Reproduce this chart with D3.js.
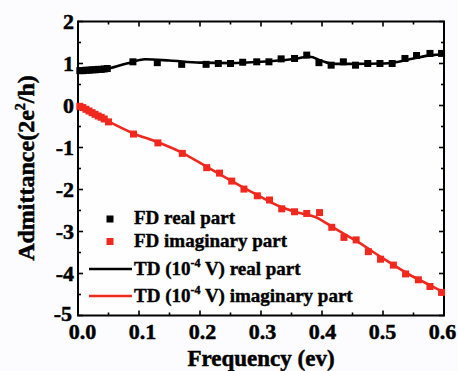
<!DOCTYPE html>
<html><head><meta charset="utf-8">
<script src="https://cdn.jsdelivr.net/npm/d3@7"></script>
<style>body{margin:0;background:#fcfcfe;}svg{display:block;}</style>
</head><body>
<script>
// ---- data ----
const fdRealFreq = [0.003,0.008,0.013,0.018,0.023,0.028,0.033,0.038,0.043,0.048,0.09,0.13,0.17,0.21,0.23,0.25,0.27,0.293,0.313,0.333,0.355,0.375,0.395,0.415,0.435,0.455,0.475,0.495,0.515,0.536,0.555,0.577,0.596];
const fdRealVal  = [0.83,0.83,0.84,0.84,0.85,0.85,0.86,0.86,0.87,0.88,1.04,1.02,0.98,0.98,1.0,1.0,1.03,1.04,1.04,1.11,1.12,1.2,1.02,0.96,1.04,0.96,1.0,1.0,1.0,1.12,1.19,1.24,1.24];
const fdImagFreq = [0.003,0.008,0.013,0.018,0.023,0.028,0.033,0.038,0.043,0.05,0.091,0.131,0.171,0.211,0.232,0.252,0.272,0.294,0.314,0.334,0.355,0.375,0.396,0.416,0.436,0.456,0.476,0.496,0.517,0.537,0.558,0.577,0.596];
const fdImagVal  = [-0.02,-0.05,-0.09,-0.13,-0.17,-0.21,-0.25,-0.28,-0.32,-0.39,-0.68,-0.89,-1.14,-1.48,-1.61,-1.8,-1.99,-2.15,-2.25,-2.46,-2.53,-2.57,-2.55,-2.9,-3.14,-3.2,-3.48,-3.66,-3.8,-4.01,-4.15,-4.31,-4.45];
const tdFreq     = [0.0,0.02,0.05,0.08,0.11,0.15,0.2,0.25,0.3,0.35,0.38,0.4,0.42,0.45,0.5,0.52,0.55,0.58,0.6];
const tdRealVal  = [0.83,0.84,0.88,1.0,1.1,1.07,1.02,1.01,1.04,1.1,1.16,1.06,0.99,0.99,1.0,1.03,1.12,1.2,1.22];
const tdImagFreq = [0.0,0.02,0.05,0.09,0.13,0.17,0.21,0.25,0.29,0.33,0.36,0.39,0.42,0.46,0.5,0.54,0.58,0.6];
const tdImagVal  = [0.0,-0.15,-0.38,-0.66,-0.87,-1.12,-1.45,-1.78,-2.1,-2.4,-2.55,-2.66,-2.92,-3.26,-3.64,-4.0,-4.3,-4.45];
const xTicks = [0.0,0.1,0.2,0.3,0.4,0.5,0.6];
const yTicks = [-5,-4,-3,-2,-1,0,1,2];
const legendLabels = ["FD real part","FD imaginary part","real part","imaginary part"];

const W=458,H=371;
const L=78,R=444,T=21.5,B=315.5;
const red="#f0281e";
const svg=d3.select("body").append("svg").attr("width",W).attr("height",H);
const x=d3.scaleLinear().domain([0,0.6]).range([L,R]);
const xLab=d3.scaleLinear().domain([0,0.6]).range([L+4.5,R-1.5]);
const y=d3.scaleLinear().domain([-5,2]).range([B,T]);
const font="'Liberation Serif','Times New Roman',serif";

// frame
svg.append("rect").attr("x",L).attr("y",T).attr("width",R-L).attr("height",B-T)
  .attr("fill","#fefefe").attr("stroke","#000").attr("stroke-width",2);

// ticks (inward)
const minorX=d3.range(0,0.601,0.05), minorY=d3.range(-5,2.01,0.5);
const tg=svg.append("g").attr("stroke","#000").attr("stroke-width",1.6);
minorX.forEach(v=>{
  const major=Math.abs(v*10-Math.round(v*10))<1e-6; const len=major?5:3;
  tg.append("line").attr("x1",x(v)).attr("x2",x(v)).attr("y1",B).attr("y2",B-len);
  tg.append("line").attr("x1",x(v)).attr("x2",x(v)).attr("y1",T).attr("y2",T+len);
});
minorY.forEach(v=>{
  const major=Math.abs(v-Math.round(v))<1e-6; const len=major?5:3;
  tg.append("line").attr("x1",L).attr("x2",L+len).attr("y1",y(v)).attr("y2",y(v));
  tg.append("line").attr("x1",R).attr("x2",R-len).attr("y1",y(v)).attr("y2",y(v));
});

const heavy=sel=>sel.attr("font-family",font).attr("font-weight","bold")
  .attr("stroke","#000").attr("stroke-width",0.5);

// tick labels
heavy(svg.append("g")).selectAll("text").data(xTicks).join("text")
  .attr("x",d=>xLab(d)).attr("y",339).attr("text-anchor","middle")
  .attr("font-size",22).text(d=>d.toFixed(1));
heavy(svg.append("g")).selectAll("text").data(yTicks).join("text")
  .attr("x",d=>L-4-(d===-5?2:0)).attr("y",d=>y(d)+7-(d===-5?2:0)).attr("text-anchor","end")
  .attr("font-size",22).text(d=>d);

// axis titles
heavy(svg.append("text")).attr("x",(L+R)/2).attr("y",366).attr("text-anchor","middle")
  .attr("font-size",23).text("Frequency (ev)");
const yt=heavy(svg.append("text")).attr("transform","translate(34,168) rotate(-90)").attr("text-anchor","middle")
  .attr("font-size",24);
yt.append("tspan").text("Admittance(2e");
yt.append("tspan").attr("font-size",14).attr("dy",-9).text("2");
yt.append("tspan").attr("dy",9).text("/h)");

// lines
const line=d3.line().x(d=>x(d[0])).y(d=>y(d[1])).curve(d3.curveMonotoneX);
svg.append("path").datum(d3.zip(tdFreq,tdRealVal)).attr("d",line)
  .attr("fill","none").attr("stroke","#000").attr("stroke-width",2.6);
svg.append("path").datum(d3.zip(tdImagFreq,tdImagVal)).attr("d",line)
  .attr("fill","none").attr("stroke",red).attr("stroke-width",2.6);

// squares
const s=7;
svg.append("g").selectAll("rect").data(d3.zip(fdRealFreq,fdRealVal)).join("rect")
  .attr("x",d=>x(d[0])-s/2).attr("y",d=>y(d[1])-s/2).attr("width",s).attr("height",s).attr("fill","#000");
svg.append("g").selectAll("rect").data(d3.zip(fdImagFreq,fdImagVal)).join("rect")
  .attr("x",d=>x(d[0])-s/2).attr("y",d=>y(d[1])-s/2).attr("width",s).attr("height",s).attr("fill",red);

// legend
const lg=heavy(svg.append("g")).attr("font-size",19).attr("stroke-width",0.4);
lg.append("rect").attr("x",110-3.5).attr("y",219-3.5).attr("width",7).attr("height",7).attr("fill","#000").attr("stroke","none");
lg.append("rect").attr("x",110-3.5).attr("y",241.5-3.5).attr("width",7).attr("height",7).attr("fill",red).attr("stroke","none");
svg.append("line").attr("x1",89).attr("x2",132).attr("y1",269).attr("y2",269).attr("stroke","#000").attr("stroke-width",2.6);
svg.append("line").attr("x1",89).attr("x2",132).attr("y1",296).attr("y2",296).attr("stroke",red).attr("stroke-width",2.6);
lg.append("text").attr("x",134).attr("y",224).text(legendLabels[0]);
lg.append("text").attr("x",134).attr("y",247).text(legendLabels[1]);
[[275,legendLabels[2]],[302,legendLabels[3]]].forEach(([by,lab])=>{
  const t=lg.append("text").attr("x",134).attr("y",by);
  t.append("tspan").text("TD (10");
  t.append("tspan").attr("font-size",12).attr("dy",-8).text("-4");
  t.append("tspan").attr("dy",8).text(" V) "+lab);
});
</script>
</body></html>
